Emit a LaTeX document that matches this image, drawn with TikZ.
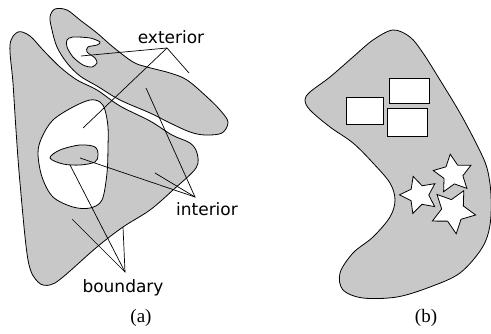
\documentclass[tikz,border=0pt]{standalone}
\usepackage{fontspec}
\setmainfont{Liberation Serif}
\newfontfamily\labelfont{DejaVu Sans}
\usetikzlibrary{shapes.geometric}
\definecolor{shadegray}{RGB}{200,200,200}
\tikzset{
  region/.style={fill=shadegray, draw=black, line width=0.8pt},
  hole/.style={fill=white, draw=black, line width=0.8pt},
  leader/.style={draw=black, line width=0.7pt},
  lbl/.style={font=\labelfont\fontsize{17}{20}\selectfont, inner sep=0pt},
  captxt/.style={font=\fontsize{19}{22}\selectfont, inner sep=0pt},
  boxhole/.style={rectangle, draw=black, fill=white, line width=0.9pt, inner sep=0pt},
  starhole/.style={star, star points=5, star point ratio=2, draw=black, fill=white, line width=0.8pt, inner sep=0pt}
}
\begin{document}
\begin{tikzpicture}[x=1pt, y=-1pt]
\useasboundingbox (0,0) rectangle (491,334);
% ---------- (a) ----------
% big triangle-like region
\path[region] plot[smooth cycle, tension=0.55] coordinates {
 (18,32) (30,36) (43,50) (60,67) (77,80) (97,90) (120,106) (150,121) (172,135)
 (190,143) (197,153) (196,168) (173,190) (150,210) (123,227) (97,247) (63,277)
 (50,285) (38,282) (28,260) (20,183) (16,130) (13,83) (10,45)};
% elongated region
\path[region] plot[smooth cycle, tension=0.55] coordinates {
 (55,9) (67,10) (80,20) (97,33) (113,47) (133,62) (147,67) (170,73) (187,80)
 (207,97) (220,110) (228,122) (222,133) (205,135) (190,132) (170,123) (150,113)
 (120,100) (97,86) (80,76) (67,63) (57,47) (52,30) (50,17)};
% hole in elongated region
\path[hole] plot[smooth cycle, tension=0.5] coordinates {
 (67,40) (73,37) (90,38) (100,42) (97,45) (88,47) (87,52) (95,58) (97,63)
 (92,67) (83,65) (73,57) (67,47)};
% big hole in triangle
\path[hole] plot[smooth cycle, tension=0.55] coordinates {
 (90,100) (100,102) (105,110) (108,127) (108,147) (107,173) (102,200) (90,208)
 (73,207) (53,197) (42,177) (38,153) (42,137) (53,120) (73,107)};
% small gray island
\path[region] plot[smooth cycle, tension=0.55] coordinates {
 (50,158) (60,150) (80,145) (95,147) (98,155) (95,162) (80,165) (63,164)};
% labels
\node[lbl] (exterior) at (171,37) {exterior};
\node[lbl] (interior) at (207,209) {interior};
\node[lbl] (boundary) at (123,288) {boundary};
\node[captxt] (capa) at (141,318) {(a)};
% leader coordinates
\coordinate (exA) at (167,48);
\coordinate (ex1) at (81,56);
\coordinate (ex2) at (83,128);
\coordinate (ex3) at (189,73);
\coordinate (inA) at (195,197);
\coordinate (in1) at (80,158);
\coordinate (in2) at (155,173);
\coordinate (in3) at (146,88);
\coordinate (bdA) at (125,272);
\coordinate (bd1) at (72,219);
\coordinate (bd2) at (70,165);
\coordinate (bd3) at (123,227);
\draw[leader] (ex1) -- (exA) -- (ex3);
\draw[leader] (exA) -- (ex2);
\draw[leader] (in1) -- (inA) -- (in3);
\draw[leader] (inA) -- (in2);
\draw[leader] (bd1) -- (bdA) -- (bd3);
\draw[leader] (bdA) -- (bd2);
% ---------- (b) ----------
\begin{scope}
\clip (0,0) rectangle (491,334);
\path[region] plot[smooth cycle, tension=0.55] coordinates {
 (393,30) (410,37) (423,53) (440,80) (460,113) (477,145) (487,168) (491,195)
 (490,225) (482,248) (460,273) (430,287) (397,297) (363,298) (343,290) (340,273)
 (353,253) (373,237) (390,217) (395,200) (390,183) (373,163) (353,143) (330,127)
 (310,110) (305,100) (310,92) (330,77) (353,57) (373,40)};
\end{scope}
\node[boxhole, minimum width=37pt, minimum height=27pt] (r1) at (364.5,110.5) {};
\node[boxhole, minimum width=40pt, minimum height=25pt] (r2) at (409,90.5) {};
\node[boxhole, minimum width=40pt, minimum height=28pt] (r3) at (407,122) {};
\node[starhole, minimum size=39pt, shape border rotate=17.5] (s1) at (419,195) {};
\node[starhole, minimum size=40pt, shape border rotate=8] (s2) at (453,174) {};
\node[starhole, minimum size=46pt, shape border rotate=-28] (s3) at (453,211) {};
\node[captxt] (capb) at (426,318) {(b)};
\end{tikzpicture}
\end{document}
